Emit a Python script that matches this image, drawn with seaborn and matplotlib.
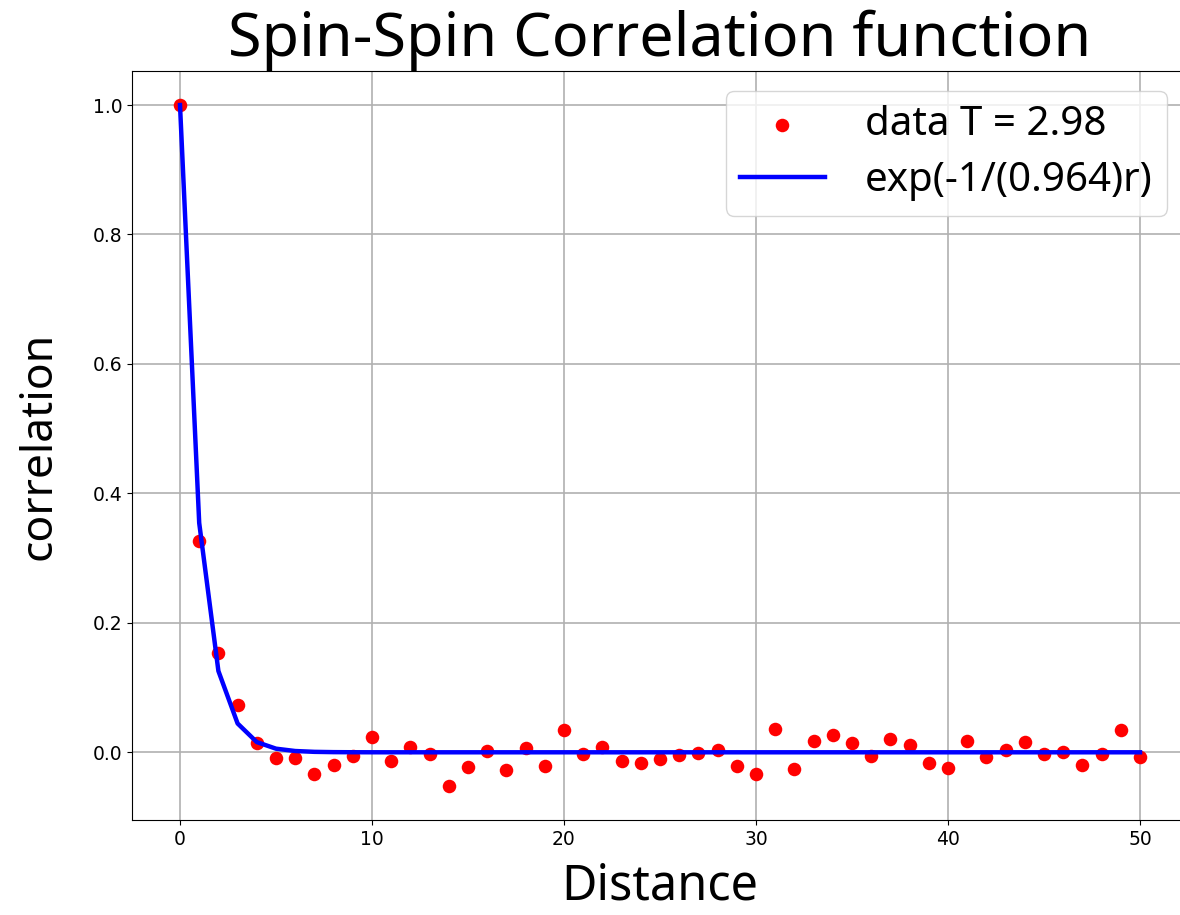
import numpy as np
import pandas as pd
import matplotlib
matplotlib.use("Agg")
import matplotlib.pyplot as plt
import seaborn as sns

# distances 0..50 and measured spin-spin correlation at T = 2.98
distance = list(range(51))
correlation = [
    1.0, 0.327, 0.153, 0.073, 0.015, -0.009, -0.009, -0.033, -0.019, -0.006,
    0.023, -0.013, 0.008, -0.002, -0.052, -0.023, 0.002, -0.027, 0.006, -0.021,
    0.034, -0.002, 0.008, -0.014, -0.016, -0.010, -0.004, -0.001, 0.004, -0.021,
    -0.034, 0.036, -0.026, 0.018, 0.026, 0.015, -0.006, 0.020, 0.012, -0.017,
    -0.025, 0.018, -0.008, 0.004, 0.016, -0.003, 0.001, -0.019, -0.002, 0.034,
    -0.008,
]
temperature = 2.98
corr_length = 0.964  # fitted correlation length, as stated in the legend

df = pd.DataFrame({"distance": distance, "correlation": correlation})
df["fit"] = np.exp(-df["distance"] / corr_length)

txt_font = ["Noto Sans", "DejaVu Sans"]

fig = plt.figure(figsize=(11.8, 9.15), dpi=100)
ax = fig.add_axes([132 / 1180, 95 / 915, 1056 / 1180, 749 / 915])

sns.scatterplot(data=df, x="distance", y="correlation", ax=ax, color="red",
                s=95, linewidth=0, label=f"data T = {temperature}", zorder=2)
sns.lineplot(data=df, x="distance", y="fit", ax=ax, color="blue",
             linewidth=3.2, label=f"exp(-1/({corr_length})r)", zorder=3)

ax.set_xlim(-2.5, 52.5)
ax.set_ylim(-0.1046, 1.0526)
ax.set_xticks([0, 10, 20, 30, 40, 50])
ax.set_yticks([0.0, 0.2, 0.4, 0.6, 0.8, 1.0])
ax.tick_params(labelsize=13.5)
ax.grid(True, color="#b0b0b0", linewidth=1.2)
ax.set_axisbelow(True)

ax.set_title("Spin-Spin Correlation function", fontsize=44, family=txt_font, pad=8)
ax.set_xlabel("Distance", fontsize=35, family=txt_font, labelpad=9)
ax.set_ylabel("correlation", fontsize=32, family=txt_font, labelpad=22)

leg = ax.legend(loc="upper right", prop={"family": txt_font, "size": 29},
                framealpha=0.8, bbox_to_anchor=(0.980, 0.973), borderaxespad=0,
                handlelength=2.1, handletextpad=1.0, borderpad=0.35,
                labelspacing=0.4)
leg.get_frame().set_edgecolor("#cccccc")

fig.savefig("out.png", dpi=100)
